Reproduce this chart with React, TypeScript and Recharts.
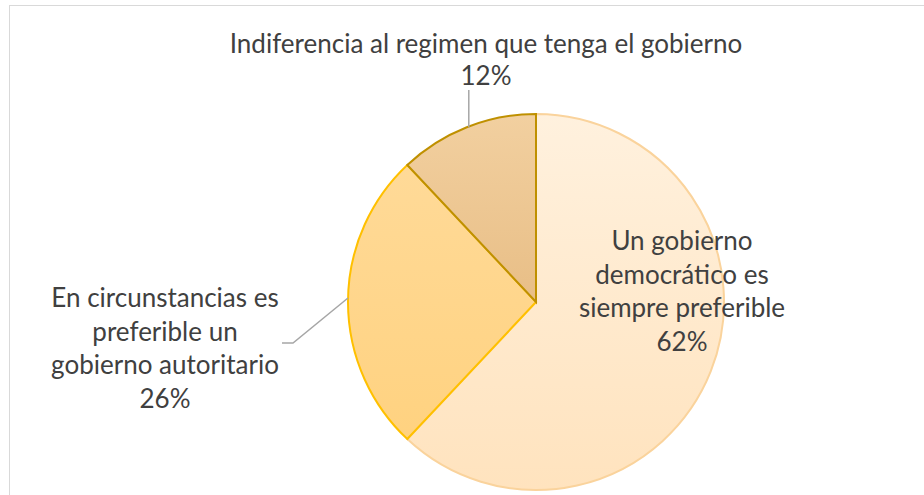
import { Pie, PieChart, Cell } from "recharts";

const categories = [
  "Un gobierno democrático es siempre preferible",
  "En circunstancias es preferible un gobierno autoritario",
  "Indiferencia al regimen que tenga el gobierno",
];
const values = [62, 26, 12];
const labelLines = [
  ["Un gobierno", "democrático es", "siempre preferible", "62%"],
  ["En circunstancias es", "preferible un", "gobierno autoritario", "26%"],
  ["Indiferencia al regimen que tenga el gobierno", "12%"],
];

const fills = ["url(#gDemo)", "url(#gAuto)", "url(#gIndif)"];
const strokes = ["#FAD39C", "#FFC000", "#BF9000"];

const data = categories.map((name, i) => ({ name, value: values[i] }));

const RAD = Math.PI / 180;

function renderLabel(props: any) {
  const { cx, cy, midAngle, outerRadius, index } = props;
  const ex = cx + outerRadius * Math.cos(-midAngle * RAD);
  const ey = cy + outerRadius * Math.sin(-midAngle * RAD);
  const lines = labelLines[index];
  const textStyle = {
    fontFamily: "Lato, Liberation Sans, sans-serif",
    fontSize: 26,
    fill: "#404040",
  };
  if (index === 0) {
    return (
      <g key="l0">
        {lines.map((t, i) => (
          <text key={i} x={cx + 146} y={cy - 62 + i * 33.5} textAnchor="middle" dominantBaseline="central" style={textStyle}>
            {t}
          </text>
        ))}
      </g>
    );
  }
  if (index === 1) {
    return (
      <g key="l1">
        <polyline points={`${ex},${ey - 4} ${cx - 243},${cy + 41} ${cx - 254},${cy + 41}`} fill="none" stroke="#A6A6A6" strokeWidth={1.5} />
        {lines.map((t, i) => (
          <text key={i} x={cx - 371} y={cy - 5 + i * 33.5} textAnchor="middle" dominantBaseline="central" style={textStyle}>
            {t}
          </text>
        ))}
      </g>
    );
  }
  return (
    <g key="l2">
      <line x1={ex + 2} y1={ey} x2={ex + 2} y2={cy - 212} stroke="#A6A6A6" strokeWidth={1.5} />
      {lines.map((t, i) => (
        <text key={i} x={cx - 50} y={cy - 259 + i * 32} textAnchor="middle" dominantBaseline="central" style={textStyle}>
          {t}
        </text>
      ))}
    </g>
  );
}

export default function App() {
  return (
    <div style={{ position: "absolute", left: 0, top: 0, width: 924, height: 495, overflow: "hidden", background: "#fff" }}>
      <div
        style={{
          position: "absolute",
          left: 9,
          top: 5,
          width: 930,
          height: 500,
          borderTop: "1.5px solid #D9D9D9",
          borderLeft: "1.5px solid #D9D9D9",
        }}
      />
      <div style={{ position: "absolute", left: 0, top: 0 }}>
        <PieChart width={924} height={495} margin={{ top: 0, right: 0, bottom: 0, left: 0 }}>
          <defs>
            <linearGradient id="gDemo" x1="0" y1="0" x2="0" y2="1">
              <stop offset="0%" stopColor="#FFF1DE" />
              <stop offset="100%" stopColor="#FFE3BE" />
            </linearGradient>
            <linearGradient id="gAuto" x1="0" y1="0" x2="0" y2="1">
              <stop offset="0%" stopColor="#FFDA98" />
              <stop offset="100%" stopColor="#FFD280" />
            </linearGradient>
            <linearGradient id="gIndif" x1="0" y1="0" x2="0" y2="1">
              <stop offset="0%" stopColor="#F2D0A0" />
              <stop offset="100%" stopColor="#E8BE86" />
            </linearGradient>
          </defs>
          <Pie
            data={data}
            dataKey="value"
            nameKey="name"
            cx={536}
            cy={302}
            outerRadius={188}
            startAngle={90}
            endAngle={-270}
            label={renderLabel}
            labelLine={false}
            isAnimationActive={false}
          >
            {data.map((d, i) => (
              <Cell key={d.name} fill={fills[i]} stroke={strokes[i]} strokeWidth={2} />
            ))}
          </Pie>
        </PieChart>
      </div>
    </div>
  );
}
